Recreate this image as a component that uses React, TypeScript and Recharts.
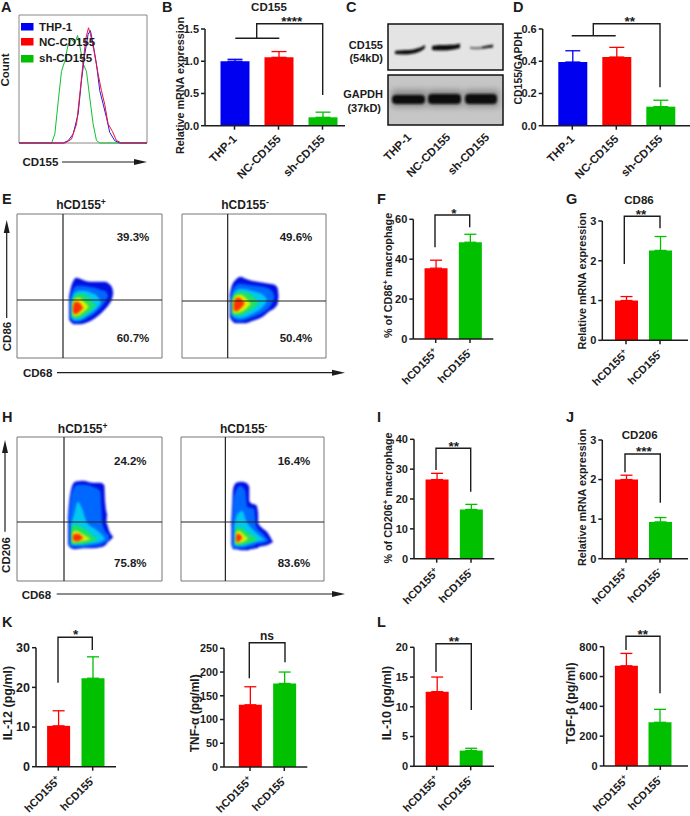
import React from "react";
import {
  BarChart, Bar, XAxis, YAxis, ErrorBar, LineChart, Line, AreaChart, Area,
  ComposedChart, ReferenceLine, ReferenceArea,
} from "recharts";

// ---------- data ----------
const threeCats = ["THP-1", "NC-CD155", "sh-CD155"];
const twoCats = ["hCD155+", "hCD155-"];
const barColors3 = ["#0000f0", "#ff0000", "#00c000"];
const barColors2 = ["#ff0000", "#00c000"];

const bValues = [1.0, 1.06, 0.13];
const bErrors = [0.03, 0.09, 0.08];
const bTicks = [0, 0.5, 1, 1.5];
const dValues = [0.395, 0.426, 0.118];
const dErrors = [0.07, 0.06, 0.04];
const dTicks = [0, 0.2, 0.4, 0.6];
const fValues = [35.5, 48.5];
const fErrors = [4, 4];
const fTicks = [0, 20, 40, 60];
const gValues = [1.0, 2.26];
const gErrors = [0.1, 0.35];
const gTicks = [0, 1, 2, 3];
const iValues = [26.5, 16.5];
const iErrors = [2.1, 1.7];
const iTicks = [0, 10, 20, 30, 40];
const jValues = [2.0, 0.93];
const jErrors = [0.11, 0.11];
const jTicks = [0, 1, 2, 3];
const il12Values = [10.3, 22.3];
const il12Errors = [3.8, 5.4];
const il12Ticks = [0, 10, 20, 30];
const tnfValues = [131, 176];
const tnfErrors = [38, 24];
const tnfTicks = [0, 50, 100, 150, 200, 250];
const il10Values = [12.55, 2.64];
const il10Errors = [2.45, 0.39];
const il10Ticks = [0, 5, 10, 15, 20];
const tgfValues = [672, 293];
const tgfErrors = [83, 87];
const tgfTicks = [0, 200, 400, 600, 800];

// panel A histograms: [CD155 position, count]
const histThp1: number[][] = [[0,0],[34.5,0],[38.4,1.8],[42.3,7],[46.2,22.7],[48.8,48.7],[51.4,69.5],[54,85],[55.8,87.8],[57.9,77.3],[60.5,61.7],[63.1,40.9],[65.7,30.5],[68.3,20],[70.9,8.3],[74.8,1.8],[78.7,0],[100,0]];
const histNc: number[][] = [[0,0],[36,0],[41,3],[45,15],[47.5,38],[50.2,64],[52.3,82],[54.3,90],[55.8,85],[58.4,73],[61.8,54],[64.4,41],[67,30],[69.6,15],[73,9],[76.1,2],[80,0],[100,0]];
const histSh: number[][] = [[0,0],[25.5,0],[28,7],[30.7,33],[33.2,56],[35.8,64],[38.4,77],[41,81],[43.6,78],[45.7,84],[47.5,76],[50,62],[52.7,56],[55.2,36],[57.9,15],[60.5,2],[63,0],[100,0]];
const histTicksY = [0, 8, 16, 24, 31, 39, 47, 55, 62, 70, 78, 86, 93];
const histTicksX = [5, 8, 11, 14, 17, 19, 21, 22, 23, 24, 26, 28, 30, 32, 36, 39, 41, 43, 45, 47, 49, 51, 55, 60, 64, 67, 69, 71, 73, 75, 77];

// flow plots: contours as [x, low, high], outer to inner
const contourColors = ["#0010e0", "#0068ff", "#00c8f0", "#20e060", "#e0f000", "#ff3000"];
const flowEPos: number[][][] = [
  [[52,39,60],[54,36,70],[57,34,78],[59,34,80],[63,34,79],[68,35,77],[73,37,76],[78,40,76],[83,44,76],[88,49,76],[92,54,74],[95,60,70],[96,65,65]],
  [[53,40,58],[56,37,68],[60,36,72],[66,38,72],[72,41,71],[78,45,70],[84,51,68],[89,58,66],[91,62,62]],
  [[54,41,56],[57,38,64],[62,38,67],[68,41,67],[74,45,65],[80,50,62],[84,55,55]],
  [[55,42,54],[58,40,62],[63,41,64],[69,44,62],[74,48,58],[78,52,52]],
  [[55,44,52],[58,42,59],[62,43,60],[66,46,57],[71,50,52]],
  [[56,46,50],[58,44,56],[61,45,56],[64,48,53],[66,50,50]],
];
const flowENeg: number[][][] = [
  [[48,42,62],[50,38,71],[54,35,78],[59,35,81],[64,35,79],[70,37,77],[76,39,76],[82,42,75],[88,47,74],[93,50,73],[96,54,70],[97,62,62]],
  [[49,43,60],[52,39,70],[58,37,74],[66,39,73],[74,42,72],[82,46,71],[88,51,69],[92,58,64],[93,61,61]],
  [[50,44,58],[53,41,66],[59,40,69],[66,42,68],[74,46,66],[80,50,64],[85,56,60]],
  [[50,45,57],[53,43,64],[59,43,66],[65,46,65],[72,50,61],[77,55,55]],
  [[51,46,56],[54,45,62],[59,46,63],[64,49,60],[69,54,54]],
  [[52,48,54],[55,47,60],[58,49,60],[61,52,57],[63,55,55]],
];
const flowHPos: number[][][] = [
  [[51,38,62],[52,35,75],[54,33,90],[58,32,99],[66,33,100],[76,33,98],[83,34,98],[87,35,96],[88,36,78],[90,37,67],[89,38,58],[92,40,50],[96,44,44]],
  [[52,36,62],[55,34,88],[60,34,96],[68,34,96],[76,35,94],[83,36,90],[85,37,60],[87,38,52],[92,41,46]],
  [[54,37,56],[57,36,66],[61,36,79],[65,36,72],[70,37,58],[78,38,52],[85,40,46],[88,42,42]],
  [[54,38,52],[57,37,56],[63,37,54],[70,38,50],[76,40,45],[80,42,42]],
  [[55,39,48],[59,39,50],[65,40,47],[70,41,44],[73,42,42]],
  [[56,41,46],[60,40,47],[63,41,46],[66,43,43]],
];
const flowHNeg: number[][][] = [
  [[51,38,55],[52,34,75],[53,32,92],[56,32,98],[61,31,99],[66,31,98],[69,31,94],[69,32,80],[72,32,77],[76,33,76],[78,33,68],[78,34,58],[82,35,53],[87,36,49],[93,39,39]],
  [[52,34,58],[54,33,85],[60,33,95],[65,33,90],[67,34,74],[74,35,72],[76,37,55],[83,38,47],[89,40,40]],
  [[54,36,54],[57,35,66],[62,35,70],[66,36,60],[72,38,52],[80,40,45],[85,41,41]],
  [[55,37,50],[58,36,54],[63,37,52],[68,38,48],[74,40,44],[77,42,42]],
  [[55,38,47],[58,38,50],[62,39,48],[66,41,44],[68,43,43]],
  [[56,40,46],[58,39,47],[60,41,46],[62,43,43]],
];
const flowTicksX = [3, 8, 14, 18, 21, 24, 26, 28, 30, 31, 32, 33, 34, 36, 38, 40, 43, 46, 50, 54, 58, 70, 76, 81, 85, 88, 90, 92, 94, 96, 108, 114, 118, 122, 125, 128, 130];
const flowTicksY = [3, 8, 13, 18, 22, 26, 29, 31, 32, 33, 34, 35, 37, 40, 44, 49, 54, 58, 72, 79, 84, 88, 91, 94, 97, 110, 117, 122, 125, 128, 130];
const flowExtent = [{ x: 0, y: 0 }, { x: 145, y: 144 }];

// ---------- shared ----------
const FONT = "'Liberation Sans', Arial, sans-serif";
const W = 690;
const H = 816;
const INK = "#1c1c1c";
const layer: React.CSSProperties = { position: "absolute", left: 0, top: 0, width: W, height: H, pointerEvents: "none" };

function Sup({ text }: { text: string }) {
  const last = text[text.length - 1];
  if (last !== "+" && last !== "-") return <>{text}</>;
  return (
    <>
      {text.slice(0, -1)}
      <tspan dy={-4} fontSize="0.72em">{last}</tspan>
    </>
  );
}

function CatTick(props: any) {
  const { x, y, payload, size, dropY } = props;
  const px = x + 3;
  const py = y + dropY;
  return (
    <text x={px} y={py} transform={`rotate(-45 ${px} ${py})`} textAnchor="end" fontFamily={FONT} fontWeight="bold" fontSize={size} fill={INK}>
      <Sup text={payload.value} />
    </text>
  );
}

type BarPanelProps = {
  cats: string[]; values: number[]; errors: number[]; ticks: number[]; colors: string[];
  x0: number; x1: number; top: number; base: number; c0: number; gap: number; barW: number;
  cap: number; fontSize?: number; decimals?: number; catSize?: number;
};

function BarPanel({ cats, values, errors, ticks, colors, x0, x1, top, base, c0, gap, barW, cap, fontSize = 11, decimals = 0, catSize = 11 }: BarPanelProps) {
  const rows = cats.map((c, i) => ({ cat: c, ["v" + i]: values[i], ["e" + i]: [0, errors[i]] }));
  const YW = 30;
  const XH = 40;
  const padL = c0 - gap / 2 - x0;
  const padR = x1 - (c0 + gap * (cats.length - 1) + gap / 2);
  const axisStyle = { stroke: INK, strokeWidth: 1.5 };
  return (
    <div style={layer}>
      <BarChart
        width={W} height={H} data={rows}
        margin={{ left: x0 - YW, right: W - x1, top, bottom: H - base - XH }}
      >
        <XAxis
          dataKey="cat" height={XH} interval={0} padding={{ left: padL, right: padR }}
          axisLine={axisStyle} tickLine={axisStyle} tickSize={4}
          tick={(p: any) => <CatTick {...p} size={catSize} dropY={8} />}
        />
        <YAxis
          width={YW} type="number" domain={[0, ticks[ticks.length - 1]]} ticks={ticks} interval={0}
          axisLine={axisStyle} tickLine={axisStyle} tickSize={4} tickMargin={2}
          tickFormatter={(v: number) => v.toFixed(decimals)}
          tick={{ fontFamily: FONT, fontWeight: "bold", fontSize, fill: INK }}
        />
        {cats.map((c, i) => (
          <Bar key={c} dataKey={"v" + i} stackId="a" fill={colors[i]} barSize={barW} isAnimationActive={false}>
            <ErrorBar dataKey={"e" + i} width={cap} stroke={colors[i]} strokeWidth={1.3} direction="y" isAnimationActive={false} />
          </Bar>
        ))}
      </BarChart>
    </div>
  );
}

function FlowPlot({ contours, left, right, top, bottom, vx, hy }: { contours: number[][][]; left: number; right: number; top: number; bottom: number; vx: number; hy: number }) {
  const margin = { left, right: W - right, top, bottom: H - bottom };
  const noTick = () => <g />;
  const axisStyle = { stroke: "#777", strokeWidth: 1 };
  return (
    <>
      <div style={{ ...layer, filter: "blur(1.1px)" }}>
        <AreaChart width={W} height={H} margin={margin}>
          <XAxis type="number" dataKey="x" domain={[0, 145]} hide allowDataOverflow />
          <YAxis type="number" domain={[0, 144]} hide allowDataOverflow />
          {contours.map((c, i) => (
            <Area
              key={i}
              data={c.map((p) => ({ x: p[0], r: [p[1], p[2]] }))}
              dataKey="r" type="monotone" fill={contourColors[i]} fillOpacity={1} stroke={contourColors[i]}
              strokeWidth={0.5} dot={false} activeDot={false} isAnimationActive={false}
            />
          ))}
        </AreaChart>
      </div>
      <div style={layer}>
        <ComposedChart width={W} height={H} margin={margin} data={flowExtent}>
          <XAxis type="number" dataKey="x" domain={[0, 145]} height={0} ticks={flowTicksX} interval={0} axisLine={axisStyle} tickLine={axisStyle} tickSize={2.5} tick={noTick} />
          <YAxis type="number" domain={[0, 144]} width={0} ticks={flowTicksY} interval={0} axisLine={axisStyle} tickLine={axisStyle} tickSize={2.5} tick={noTick} />
          <Line dataKey="y" stroke="none" dot={false} activeDot={false} isAnimationActive={false} />
          <ReferenceArea x1={0} x2={145} y1={0} y2={144} fill="none" stroke="#777" strokeWidth={1} ifOverflow="visible" />
          <ReferenceLine x={vx} stroke="#222" strokeWidth={1.2} />
          <ReferenceLine y={hy} stroke="#222" strokeWidth={1.2} />
        </ComposedChart>
      </div>
    </>
  );
}

function HistPlot() {
  const axisStyle = { stroke: "#888", strokeWidth: 1 };
  const noTick = () => <g />;
  return (
    <div style={layer}>
      <LineChart width={W} height={H} margin={{ left: 19, right: W - 147, top: 15, bottom: H - 143 }}>
        <XAxis type="number" dataKey="x" domain={[0, 100]} height={0} ticks={histTicksX} interval={0} axisLine={axisStyle} tickLine={axisStyle} tickSize={2.5} tick={noTick} />
        <YAxis type="number" domain={[0, 100]} width={0} ticks={histTicksY} interval={0} axisLine={axisStyle} tickLine={axisStyle} tickSize={2.5} tick={noTick} />
        <ReferenceArea x1={0} x2={100} y1={0} y2={100} fill="none" stroke="#888" strokeWidth={1} ifOverflow="visible" />
        <Line data={histSh.map((p) => ({ x: p[0], y: p[1] }))} dataKey="y" stroke="#10c030" strokeWidth={1} dot={false} isAnimationActive={false} />
        <Line data={histThp1.map((p) => ({ x: p[0], y: p[1] }))} dataKey="y" stroke="#2020f0" strokeWidth={1} dot={false} isAnimationActive={false} />
        <Line data={histNc.map((p) => ({ x: p[0], y: p[1] }))} dataKey="y" stroke="#f01030" strokeWidth={1} dot={false} isAnimationActive={false} />
      </LineChart>
    </div>
  );
}

// ---------- overlay helpers ----------
function T({ x, y, s = 11.5, a = "start", w = "bold", children }: any) {
  return <text x={x} y={y} fontFamily={FONT} fontSize={s} fontWeight={w} textAnchor={a} fill={INK}>{children}</text>;
}
function VT({ cx, cy, s = 10.8, children }: any) {
  const bx = cx + s * 0.36;
  return <text x={bx} y={cy} transform={`rotate(-90 ${bx} ${cy})`} fontFamily={FONT} fontSize={s} fontWeight="bold" textAnchor="middle" fill={INK}>{children}</text>;
}
function Path({ d, w = 1.4 }: { d: string; w?: number }) {
  return <path d={d} fill="none" stroke={INK} strokeWidth={w} />;
}
function Stars({ x, cy, n }: { x: number; cy: number; n: number }) {
  return <T x={x} y={cy + 7.2} s={13.5} a="middle">{"*".repeat(n)}</T>;
}
function Bracket({ l, lb, t, r, rb }: { l: number; lb: number; t: number; r: number; rb: number }) {
  return <Path d={`M${l} ${lb}V${t}H${r}V${rb}`} />;
}
function HArrow({ x0, x1, y }: { x0: number; x1: number; y: number }) {
  return (
    <g>
      <path d={`M${x0} ${y}H${x1 - 8}`} stroke={INK} strokeWidth={1.2} />
      <path d={`M${x1 - 13} ${y - 3}L${x1} ${y}L${x1 - 13} ${y + 3}Z`} fill={INK} />
    </g>
  );
}
function VArrow({ x, y0, y1 }: { x: number; y0: number; y1: number }) {
  return (
    <g>
      <path d={`M${x} ${y0}V${y1 + 8}`} stroke={INK} strokeWidth={1.2} />
      <path d={`M${x - 3} ${y1 + 13}L${x} ${y1}L${x + 3} ${y1 + 13}Z`} fill={INK} />
    </g>
  );
}

function Overlay() {
  const letters: [string, number, number][] = [
    ["A", 1, 12], ["B", 162, 12], ["C", 346, 12], ["D", 513, 12],
    ["E", 2, 204], ["F", 377, 204], ["G", 566, 204],
    ["H", 2, 422], ["I", 377, 422], ["J", 566, 422],
    ["K", 2, 627], ["L", 377, 627],
  ];
  return (
    <svg style={layer} width={W} height={H}>
      <defs>
        <filter id="blotBlur" x="-20%" y="-60%" width="140%" height="220%"><feGaussianBlur stdDeviation="1.3" /></filter>
        <filter id="bgBlur" x="-20%" y="-60%" width="140%" height="220%"><feGaussianBlur stdDeviation="3" /></filter>
      </defs>
      {letters.map(([c, x, y]) => <T key={c} x={x} y={y} s={14.5}>{c}</T>)}

      {/* A */}
      <rect x={21} y={23} width={12.5} height={7.5} fill="#0000f0" />
      <rect x={21} y={38} width={12.5} height={7.5} fill="#ff0000" />
      <rect x={21} y={55} width={12.5} height={7.5} fill="#00c000" />
      <T x={39} y={31}>THP-1</T>
      <T x={39} y={46}>NC-CD155</T>
      <T x={39} y={62}>sh-CD155</T>
      <VT cx={5} cy={70} s={11.5}>Count</VT>
      <T x={22.5} y={166}>CD155</T>
      <HArrow x0={62} x1={147} y={162} />

      {/* B */}
      <T x={269} y={11} a="middle">CD155</T>
      <VT cx={180} cy={85.5}>Relative mRNA expression</VT>
      <Path d="M235.3 38.3H279.3M256.7 38.3V23.7H322.7V95" />
      <Stars x={291.7} cy={18.3} n={4} />

      {/* C */}
      <rect x={388} y={24} width={115} height={46} fill="#e4e4e4" />
      <rect x={388} y={75} width={115} height={50} fill="#c6c6c6" />
      <g filter="url(#bgBlur)">
        <rect x={392} y={90} width={34} height={17} fill="#8a8a8a" />
        <rect x={428} y={90} width={34} height={17} fill="#8a8a8a" />
        <rect x={465} y={90} width={34} height={17} fill="#8a8a8a" />
      </g>
      <g filter="url(#blotBlur)">
        <path d="M395 51C404 49 414 52 425 45V48C418 55 404 55 395 54Z" fill="#111" />
        <path d="M432 46C440 44 452 46 460 43.5V48C450 51 440 51 432 50Z" fill="#111" />
        <path d="M470 46.5C478 48 486 46 493 44.5V47C486 49 478 50 470 49Z" fill="#777" />
        <path d="M482 46.5L493 44.5V47.5L482 48.5Z" fill="#222" />
        <rect x={392} y={95} width={33} height={9} rx={4} fill="#0c0c0c" />
        <rect x={428} y={94} width={33} height={10} rx={4} fill="#0c0c0c" />
        <rect x={465} y={94} width={32} height={10} rx={4} fill="#0c0c0c" />
      </g>
      <rect x={388} y={24} width={115} height={46} fill="none" stroke="#111" strokeWidth={1.5} />
      <rect x={388} y={75} width={115} height={50} fill="none" stroke="#111" strokeWidth={1.5} />
      <T x={383} y={49} a="end" s={11}>CD155</T>
      <T x={383} y={62} a="end" s={11}>(54kD)</T>
      <T x={383} y={98} a="end" s={11}>GAPDH</T>
      <T x={381} y={112} a="end" s={11}>(37kD)</T>
      {[["THP-1", 412], ["NC-CD155", 451], ["sh-CD155", 490]].map(([t, x]) => (
        <text key={t as string} x={x as number} y={138} transform={`rotate(-45 ${x} 138)`} textAnchor="end" fontFamily={FONT} fontWeight="bold" fontSize={11.5} fill={INK}>{t}</text>
      ))}

      {/* D */}
      <VT cx={518} cy={68} s={10.4}>CD155/GAPDH</VT>
      <Path d="M571.7 35.7H615.7M593.3 35.7V23.7H660V87.3" />
      <Stars x={629.7} cy={18.3} n={2} />

      {/* E */}
      <T x={81} y={209} a="middle" s={12}><Sup text="hCD155+" /></T>
      <T x={245} y={209} a="middle" s={12}><Sup text="hCD155-" /></T>
      <T x={133} y={240.7} a="middle">39.3%</T>
      <T x={133} y={342.3} a="middle">60.7%</T>
      <T x={296} y={240.7} a="middle">49.6%</T>
      <T x={296} y={342.3} a="middle">50.4%</T>
      <VT cx={7} cy={336.5} s={11.5}>CD86</VT>
      <VArrow x={6.7} y0={318} y1={220} />
      <T x={23} y={377}>CD68</T>
      <HArrow x0={57} x1={345} y={372.7} />

      {/* F */}
      <VT cx={388} cy={275.4}>% of CD86<tspan dy={-4} fontSize="0.72em">+</tspan><tspan dy={4}> macrophage</tspan></VT>
      <Bracket l={435} lb={247.3} t={215} r={469.7} rb={227.3} />
      <Stars x={454} cy={211} n={1} />

      {/* G */}
      <T x={639} y={203.7} a="middle">CD86</T>
      <VT cx={582.3} cy={281}>Relative mRNA expression</VT>
      <Bracket l={624.3} lb={264} t={216.3} r={660} rb={228.3} />
      <Stars x={641} cy={211.7} n={2} />

      {/* H */}
      <T x={82.7} y={432.7} a="middle" s={12}><Sup text="hCD155+" /></T>
      <T x={243.7} y={432.7} a="middle" s={12}><Sup text="hCD155-" /></T>
      <T x={130.3} y={465} a="middle">24.2%</T>
      <T x={130.3} y={567} a="middle">75.8%</T>
      <T x={294} y={465} a="middle">16.4%</T>
      <T x={294} y={567} a="middle">83.6%</T>
      <VT cx={5.5} cy={555} s={11.5}>CD206</VT>
      <VArrow x={5} y0={531.7} y1={440} />
      <T x={21.7} y={598.5}>CD68</T>
      <HArrow x0={56.7} x1={345} y={594} />

      {/* I */}
      <VT cx={388.3} cy={498}>% of CD206<tspan dy={-4} fontSize="0.72em">+</tspan><tspan dy={4}> macrophage</tspan></VT>
      <Bracket l={436} lb={470} t={448.3} r={470.7} rb={491.7} />
      <Stars x={453.7} cy={444} n={2} />

      {/* J */}
      <T x={639.7} y={439.3} a="middle">CD206</T>
      <VT cx={582.3} cy={497.5}>Relative mRNA expression</VT>
      <Bracket l={625} lb={472.3} t={454} r={660.3} rb={502.7} />
      <Stars x={644} cy={449} n={3} />

      {/* K */}
      <VT cx={7.7} cy={703} s={12.5}>IL-12 (pg/ml)</VT>
      <Bracket l={58} lb={682.7} t={637.3} r={92.3} rb={650} />
      <Stars x={75.7} cy={631.7} n={1} />
      <VT cx={195} cy={713.3} s={12}>TNF-α (pg/ml)</VT>
      <Bracket l={249.3} lb={678.3} t={642.7} r={285} rb={662.3} />
      <T x={267} y={640} a="middle" s={12}>ns</T>

      {/* L */}
      <VT cx={386.7} cy={703} s={12.5}>IL-10 (pg/ml)</VT>
      <Bracket l={436} lb={672} t={643.7} r={471.3} rb={710} />
      <Stars x={454} cy={639} n={2} />
      <VT cx={570.7} cy={703.3} s={12.5}>TGF-β (pg/ml)</VT>
      <Bracket l={626} lb={650} t={636.3} r={660} rb={693.3} />
      <Stars x={642.7} cy={631.3} n={2} />
    </svg>
  );
}

export default function App() {
  return (
    <div style={{ position: "absolute", left: 0, top: 0, width: W, height: H, background: "#fff", overflow: "hidden" }}>
      <HistPlot />
      <BarPanel cats={threeCats} values={bValues} errors={bErrors} ticks={bTicks} colors={barColors3} decimals={1} catSize={11.5} x0={205} x1={345} top={29} base={125.7} c0={234.5} gap={44} barW={29} cap={7.5} fontSize={11} />
      <BarPanel cats={threeCats} values={dValues} errors={dErrors} ticks={dTicks} colors={barColors3} decimals={1} catSize={11.5} x0={542.7} x1={690} top={29} base={125.7} c0={572.3} gap={44} barW={29} cap={7.5} fontSize={11} />

      <FlowPlot contours={flowEPos} left={17} right={162} top={214} bottom={358} vx={46} hy={58} />
      <FlowPlot contours={flowENeg} left={182} right={326} top={214} bottom={358} vx={46} hy={57} />
      <FlowPlot contours={flowHPos} left={17} right={162} top={437} bottom={581} vx={47} hy={59} />
      <FlowPlot contours={flowHNeg} left={181} right={324} top={437} bottom={581} vx={45} hy={59} />

      <BarPanel cats={twoCats} values={fValues} errors={fErrors} ticks={fTicks} colors={barColors2} x0={413.3} x1={493.3} top={219.3} base={339} c0={435.7} gap={34.3} barW={23} cap={6} />
      <BarPanel cats={twoCats} values={gValues} errors={gErrors} ticks={gTicks} colors={barColors2} x0={602.3} x1={688} top={221} base={340.3} c0={626} gap={34} barW={23} cap={6} />
      <BarPanel cats={twoCats} values={iValues} errors={iErrors} ticks={iTicks} colors={barColors2} x0={414} x1={494.3} top={439.3} base={558.7} c0={436.7} gap={34.3} barW={23} cap={6} />
      <BarPanel cats={twoCats} values={jValues} errors={jErrors} ticks={jTicks} colors={barColors2} x0={602.3} x1={688} top={440} base={558.7} c0={626} gap={34} barW={23} cap={6} />
      <BarPanel cats={twoCats} values={il12Values} errors={il12Errors} ticks={il12Ticks} colors={barColors2} x0={36} x1={116} top={647.7} base={766.7} c0={58.3} gap={34.4} barW={23} cap={6} fontSize={12.5} />
      <BarPanel cats={twoCats} values={tnfValues} errors={tnfErrors} ticks={tnfTicks} colors={barColors2} x0={224} x1={307.3} top={648.3} base={767} c0={250} gap={34.3} barW={23} cap={6} fontSize={10.8} />
      <BarPanel cats={twoCats} values={il10Values} errors={il10Errors} ticks={il10Ticks} colors={barColors2} x0={414} x1={494} top={647.3} base={766.3} c0={436.7} gap={34} barW={23} cap={6} />
      <BarPanel cats={twoCats} values={tgfValues} errors={tgfErrors} ticks={tgfTicks} colors={barColors2} x0={603.7} x1={688} top={646.7} base={766} c0={626.7} gap={33.6} barW={23} cap={6} />

      <Overlay />
    </div>
  );
}
